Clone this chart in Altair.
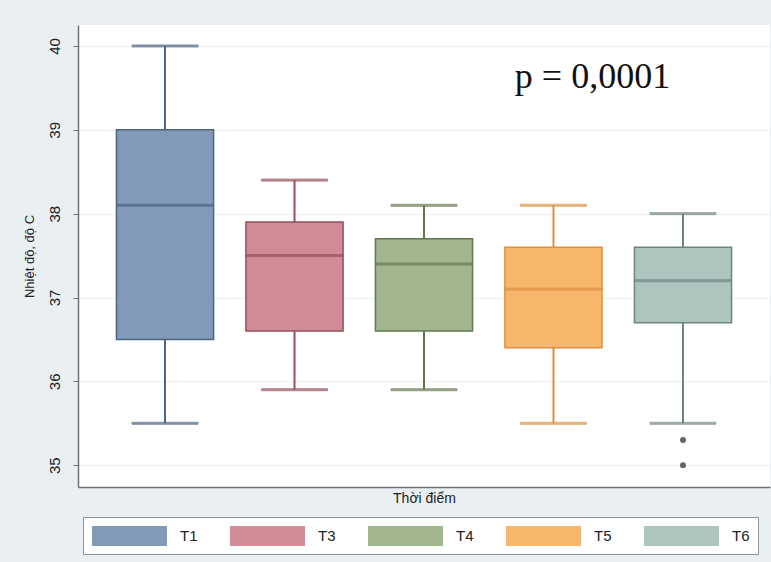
import altair as alt
import pandas as pd

# Body temperature by time point: box summary statistics
groups = ["T1", "T3", "T4", "T5", "T6"]
lower_whisker = [35.5, 35.9, 35.9, 35.5, 35.5]
q1 = [36.5, 36.6, 36.6, 36.4, 36.7]
median = [38.1, 37.5, 37.4, 37.1, 37.2]
q3 = [39.0, 37.9, 37.7, 37.6, 37.6]
upper_whisker = [40.0, 38.4, 38.1, 38.1, 38.0]

outlier_group = ["T6", "T6"]
outlier_value = [35.3, 35.0]

fill_colors = ["#8299b7", "#cf8b96", "#a3b78f", "#f6b66b", "#aec4bf"]
line_colors = ["#4d6584", "#94505c", "#66774f", "#dc9040", "#6f8580"]

p_label = "p = 0,0001"

stats = pd.DataFrame({
    "group": groups,
    "lo": lower_whisker,
    "q1": q1,
    "med": median,
    "q3": q3,
    "hi": upper_whisker,
})
outliers = pd.DataFrame({"group": outlier_group, "value": outlier_value})
note = pd.DataFrame({"group": ["T5"], "value": [39.63], "text": [p_label]})

FONT = "Liberation Sans"

x_enc = alt.X(
    "group:N",
    sort=groups,
    scale=alt.Scale(domain=groups, paddingInner=0.25, paddingOuter=0.297),
    axis=alt.Axis(
        title="Thời điểm",
        labels=False,
        ticks=False,
        domainColor="#6b7378",
        domainWidth=1.5,
        titleFont=FONT,
        titleFontSize=14,
        titleFontWeight="normal",
        titleColor="#222222",
        titlePadding=4,
    ),
)

y_scale = alt.Scale(domain=[34.74, 40.25], nice=False, zero=False)
y_axis = alt.Axis(
    values=[35, 36, 37, 38, 39, 40],
    format="d",
    title="Nhiệt độ, độ C",
    labelAngle=270,
    labelAlign="center",
    labelBaseline="bottom",
    labelFont=FONT,
    labelFontSize=15,
    labelColor="#222222",
    labelPadding=11,
    tickSize=5,
    tickColor="#6b7378",
    domainColor="#6b7378",
    domainWidth=1.5,
    grid=True,
    gridColor="#eeeeee",
    gridWidth=1,
    titleFont=FONT,
    titleFontSize=13,
    titleFontWeight="normal",
    titleColor="#222222",
    titlePadding=11,
)

fill_scale = alt.Scale(domain=groups, range=fill_colors)
stroke_scale = alt.Scale(domain=groups, range=line_colors)

base = alt.Chart(stats).encode(x=x_enc)

whisker_low = base.mark_rule(strokeWidth=2).encode(
    y=alt.Y("lo:Q", scale=y_scale, axis=y_axis),
    y2="q1:Q",
    stroke=alt.Stroke("group:N", scale=stroke_scale, legend=None),
)
whisker_high = base.mark_rule(strokeWidth=2).encode(
    y=alt.Y("q3:Q", scale=y_scale),
    y2="hi:Q",
    stroke=alt.Stroke("group:N", scale=stroke_scale, legend=None),
)
cap_low = base.mark_tick(thickness=2, size=66).encode(
    y=alt.Y("lo:Q", scale=y_scale),
    stroke=alt.Stroke("group:N", scale=stroke_scale, legend=None),
    fill=alt.Fill("group:N", scale=stroke_scale, legend=None),
)
cap_high = base.mark_tick(thickness=2, size=66).encode(
    y=alt.Y("hi:Q", scale=y_scale),
    stroke=alt.Stroke("group:N", scale=stroke_scale, legend=None),
    fill=alt.Fill("group:N", scale=stroke_scale, legend=None),
)
# Legend swatch: a 75x20 rectangle drawn from a 20px symbol box
boxes = base.mark_bar(strokeWidth=1.5).encode(
    y=alt.Y("q1:Q", scale=y_scale),
    y2="q3:Q",
    fill=alt.Fill(
        "group:N",
        scale=fill_scale,
        legend=alt.Legend(
            title=None,
            orient="none",
            legendX=5,
            legendY=492,
            direction="horizontal",
            columns=5,
            gridAlign="all",
            symbolType="M-1,-1H6.5V1H-1Z",
            symbolSize=400,
            symbolStrokeWidth=1.5,
            labelFont=FONT,
            labelFontSize=15,
            labelColor="#222222",
            labelOffset=67,
            columnPadding=31,
            padding=8,
            fillColor="#ffffff",
            strokeColor="#8f969b",
        ),
    ),
    stroke=alt.Stroke("group:N", scale=stroke_scale),
)
medians = base.mark_tick(thickness=2, size=97).encode(
    y=alt.Y("med:Q", scale=y_scale),
    stroke=alt.Stroke("group:N", scale=stroke_scale, legend=None),
    fill=alt.Fill("group:N", scale=stroke_scale, legend=None),
)

outlier_pts = alt.Chart(outliers).mark_circle(size=36, color="#5f6a6a", opacity=1).encode(
    x=alt.X("group:N", sort=groups),
    y=alt.Y("value:Q", scale=y_scale),
)

p_text = alt.Chart(note).mark_text(
    font="Liberation Serif", fontSize=36, color="#111111", dx=39, align="center", baseline="middle"
).encode(
    x=alt.X("group:N", sort=groups),
    y=alt.Y("value:Q", scale=y_scale),
    text="text:N",
)

chart = (
    alt.layer(whisker_low, whisker_high, cap_low, cap_high, boxes, medians, outlier_pts, p_text)
    .resolve_scale(fill="independent")
    .properties(
        width=692,
        height=462,
        background="#eaeff2",
        padding={"left": 78, "top": 25, "right": 1, "bottom": 75},
        autosize=alt.AutoSizeParams(type="none"),
    )
    .configure_view(fill="#ffffff", stroke=None)
)

chart.save("out.html", embed_options={"renderer": "svg", "actions": False})
